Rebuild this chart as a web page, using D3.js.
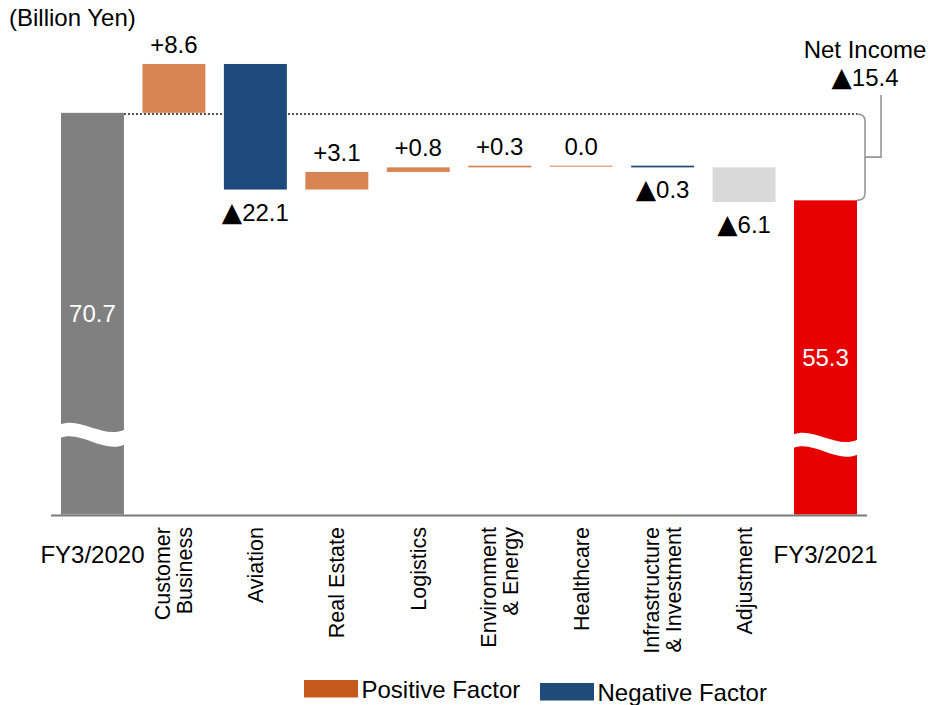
<!DOCTYPE html>
<html>
<head>
<meta charset="utf-8">
<script src="https://cdn.jsdelivr.net/npm/d3@7"></script>
<style>
  html, body { margin: 0; padding: 0; background: #fff; }
  svg { display: block; font-family: "Liberation Sans", Arial, sans-serif; }
  .tri { font-family: "DejaVu Sans", sans-serif; }
</style>
</head>
<body>
<svg id="chart" width="928" height="705"></svg>
<script>
// ---- data ----
const unitLabel = "(Billion Yen)";
const categories = ["FY3/2020", "Customer\nBusiness", "Aviation", "Real Estate", "Logistics",
  "Environment\n& Energy", "Healthcare", "Infrastructure\n& Investment", "Adjustment", "FY3/2021"];
const startValue = 70.7;
const endValue = 55.3;
const deltas = [8.6, -22.1, 3.1, 0.8, 0.3, 0.0, -0.3, -6.1];
const deltaKinds = ["pos", "neg", "pos", "pos", "pos", "pos", "neg", "adj"];
const netLabel = "Net Income";
const netChange = -15.4;
const legendLabels = ["Positive Factor", "Negative Factor"];

// ---- styles ----
const colors = { start: "#808080", end: "#E60000", pos: "#D98453", neg: "#1D4A7B", adj: "#D9D9D9" };
const legendColors = ["#C65A1C", "#1F4B7A"];
const FS = 24;

// write a value label; negatives get a ▲ prefix (Japanese-style minus)
function deltaText(sel, v) {
  if (v < 0) {
    sel.append("tspan").attr("class", "tri").attr("font-size", FS * 1.1).text("\u25B2");
    sel.append("tspan").text(Math.abs(v).toFixed(1));
  } else {
    sel.append("tspan").text((v > 0 ? "+" : "") + v.toFixed(1));
  }
}

const svg = d3.select("#chart");
const x = d3.scaleBand().domain(categories).range([51, 867]).paddingInner(0.227).paddingOuter(0.1227);
const y = d3.scaleLinear().domain([0, 80]).range([514.5, 60]);
const bw = x.bandwidth();

// running totals
let run = startValue;
const steps = deltas.map((d, i) => {
  const from = run; run = +(run + d).toFixed(4);
  return { cat: categories[i + 1], value: d, kind: deltaKinds[i], from, to: run };
});

// dotted reference line
const yRef = Math.round(y(startValue)) + 1;
svg.append("line")
  .attr("x1", x(categories[0]) + bw).attr("x2", x(categories[9]) + bw)
  .attr("y1", yRef).attr("y2", yRef)
  .attr("stroke", "#505050").attr("stroke-width", 2).attr("stroke-dasharray", "2,2");

// total bars
const totals = [{ cat: categories[0], v: startValue, c: colors.start, brk: 90 },
                { cat: categories[9], v: endValue, c: colors.end, brk: 80 }];
svg.selectAll(".total").data(totals).join("rect")
  .attr("x", d => x(d.cat)).attr("width", bw)
  .attr("y", d => y(d.v)).attr("height", d => y(0) - y(d.v))
  .attr("fill", d => d.c);

// break waves
totals.forEach(d => {
  const x0 = x(d.cat) - 1, w = bw + 2, t = y(0) - d.brk, th = 13.5;
  const p = `M${x0},${t} C${x0 + 0.33 * w},${t - 8} ${x0 + 0.66 * w},${t + 15} ${x0 + w},${t + 5}` +
    ` L${x0 + w},${t + 5 + th + 1.5} C${x0 + 0.66 * w},${t + 15 + th + 1} ${x0 + 0.33 * w},${t - 8 + th} ${x0},${t + th} Z`;
  svg.append("path").attr("d", p).attr("fill", "#fff");
});

// total labels
svg.selectAll(".totlab").data(totals).join("text")
  .attr("x", d => x(d.cat) + bw / 2).attr("y", d => (y(d.v) + y(0)) / 2)
  .attr("dy", "0.35em").attr("text-anchor", "middle")
  .attr("fill", "#fff").attr("font-size", FS)
  .text(d => d.v.toFixed(1));

// delta bars
svg.selectAll(".step").data(steps).join("rect")
  .attr("x", d => x(d.cat)).attr("width", bw)
  .attr("y", d => Math.min(y(d.from), y(d.to)))
  .attr("height", d => Math.max(1, Math.abs(y(d.from) - y(d.to))))
  .attr("fill", d => colors[d.kind]);

// delta labels
svg.selectAll(".steplab").data(steps).join("text")
  .attr("x", d => x(d.cat) + bw / 2)
  .attr("y", d => d.value >= 0 ? Math.min(y(d.from), y(d.to)) - 11 : Math.max(y(d.from), y(d.to)) + 31)
  .attr("text-anchor", "middle").attr("font-size", FS).attr("fill", "#000")
  .each(function (d) { deltaText(d3.select(this), d.value); });

// axis baseline
svg.append("line").attr("x1", 51).attr("x2", 867).attr("y1", y(0) + 1).attr("y2", y(0) + 1)
  .attr("stroke", "#7a7a7a").attr("stroke-width", 2);

// category labels
categories.forEach((c, i) => {
  const cx = x(c) + bw / 2;
  if (i === 0 || i === categories.length - 1) {
    svg.append("text").attr("x", cx).attr("y", 563).attr("text-anchor", "middle")
      .attr("font-size", 24).attr("fill", "#000").text(c);
  } else {
    const lines = c.split("\n");
    lines.forEach((ln, j) => {
      const lx = cx + (j - (lines.length - 1) / 2) * 22;
      svg.append("text")
        .attr("transform", `translate(${lx},527) rotate(-90)`)
        .attr("text-anchor", "end").attr("dy", "0.35em")
        .attr("font-size", 21.5).attr("fill", "#000").text(ln);
    });
  }
});

// bracket for net change
const bx = x(categories[9]) + bw + 8;
const yTop = yRef, yBot = y(endValue), r = 7;
svg.append("path")
  .attr("d", `M${bx - 8},${yTop} Q${bx},${yTop} ${bx},${yTop + r} L${bx},${yBot - r} Q${bx},${yBot} ${bx - 8},${yBot}`)
  .attr("fill", "none").attr("stroke", "#969696").attr("stroke-width", 1.6);
const ym = (yTop + yBot) / 2;
svg.append("path").attr("d", `M${bx},${ym} H${bx + 16} V95`)
  .attr("fill", "none").attr("stroke", "#969696").attr("stroke-width", 1.6);
svg.append("text").attr("x", bx).attr("y", 58).attr("text-anchor", "middle")
  .attr("font-size", FS).attr("fill", "#000").text(netLabel);
svg.append("text").attr("x", bx).attr("y", 86).attr("text-anchor", "middle")
  .attr("font-size", FS).attr("fill", "#000")
  .call(s => deltaText(s, netChange));

// unit label
svg.append("text").attr("x", 9).attr("y", 26).attr("font-size", FS).attr("fill", "#000").text(unitLabel);

// legend
const legX = [304, 540], legY = [680, 683];
legendLabels.forEach((l, i) => {
  svg.append("rect").attr("x", legX[i]).attr("y", legY[i]).attr("width", 54).attr("height", 17.5).attr("fill", legendColors[i]);
  svg.append("text").attr("x", legX[i] + 57.5).attr("y", legY[i] + 18).attr("font-size", 24).attr("fill", "#000").text(l);
});
</script>
</body>
</html>
